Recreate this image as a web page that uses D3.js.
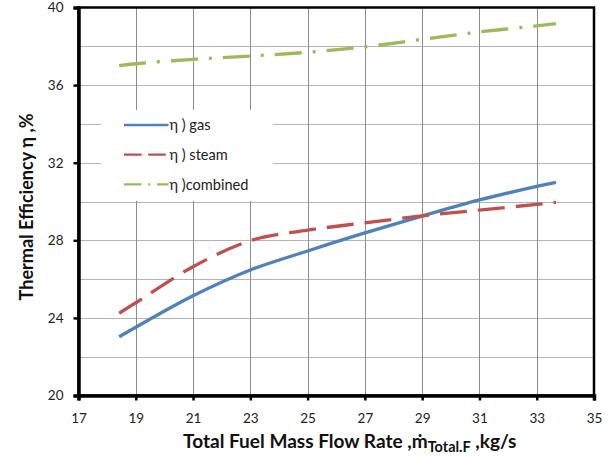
<!DOCTYPE html>
<html><head><meta charset="utf-8">
<script src="https://cdn.jsdelivr.net/npm/d3@7"></script>
<style>
body{margin:0;background:#fff}
text{font-family:Lato,'Open Sans',sans-serif}
</style>
</head><body><svg id="c" width="611" height="456"></svg>
<script>
const flowRate = [18.42, 19, 21, 23, 25, 27, 29, 31, 33, 33.67];
const etaGas = [23.03, 23.52, 25.14, 26.47, 27.45, 28.38, 29.25, 30.08, 30.78, 30.99];
const etaSteam = [24.24, 24.78, 26.64, 27.98, 28.52, 28.9, 29.26, 29.56, 29.85, 29.96];
const etaCombined = [37.0, 37.1, 37.33, 37.5, 37.69, 37.97, 38.36, 38.74, 39.05, 39.17];
const seriesNames = ["η ) gas", "η ) steam", "η )combined"];
const seriesColors = ["#4F81BD", "#C0504D", "#9BBB59"];
const xTickValues = [17, 19, 21, 23, 25, 27, 29, 31, 33, 35];
const yTickValues = [20, 24, 28, 32, 36, 40];
const yGridValues = [22, 24, 26, 28, 30, 32, 34, 36, 38];

const svg = d3.select("#c");
const x = d3.scaleLinear().domain([17, 35]).range([78.5, 594]);
const y = d3.scaleLinear().domain([20, 40]).range([395.5, 7.5]);

// fit a text element's font size so its length matches a target width
function fitSize(sel, target, base) {
  sel.style("font-size", base + "px");
  const w = sel.node().getComputedTextLength();
  const s = base * target / w;
  sel.style("font-size", s + "px");
  return s;
}

// gridlines
svg.append("g").selectAll("line").data(yGridValues).join("line")
  .attr("x1", x(17)).attr("x2", x(35))
  .attr("y1", d => Math.round(y(d)) + 0.5).attr("y2", d => Math.round(y(d)) + 0.5)
  .attr("stroke", "#b4b4b4").attr("stroke-width", 1);
svg.append("g").selectAll("line").data(xTickValues.slice(1, -1)).join("line")
  .attr("x1", d => Math.round(x(d)) + 0.5).attr("x2", d => Math.round(x(d)) + 0.5)
  .attr("y1", y(40)).attr("y2", y(20))
  .attr("stroke", "#8c8c8c").attr("stroke-width", 1);

// plot border
svg.append("rect").attr("x", x(17)).attr("y", y(40))
  .attr("width", x(35) - x(17)).attr("height", y(20) - y(40))
  .attr("fill", "none").attr("stroke", "#000").attr("stroke-width", 2.5);

// axes
const xAxis = svg.append("g").attr("transform", `translate(0,${y(20)})`)
  .call(d3.axisBottom(x).tickValues(xTickValues).tickSize(5).tickPadding(13).tickFormat(d3.format("d")));
const yAxis = svg.append("g").attr("transform", `translate(${x(17)},0)`)
  .call(d3.axisLeft(y).tickValues(yTickValues).tickSize(5).tickPadding(10).tickFormat(d3.format("d")));
[xAxis, yAxis].forEach(a => {
  a.select(".domain").attr("stroke", "#000").attr("stroke-width", 3.5);
  a.selectAll(".tick line").attr("stroke", "#000").attr("stroke-width", 2.5);
  a.selectAll(".tick text").attr("fill", "#222").style("font-size", "13.5px").style("font-family", "Lato,'Open Sans',sans-serif");
});

// series
const seriesData = [etaGas, etaSteam, etaCombined];
const dashes = [null, "27,11", "27,11,3,11"];
const line = d3.line().x(d => x(d[0])).y(d => y(d[1])).curve(d3.curveCatmullRom.alpha(0.5));
seriesData.forEach((vals, i) => {
  svg.append("path").datum(flowRate.map((f, j) => [f, vals[j]]))
    .attr("d", line).attr("fill", "none")
    .attr("stroke", seriesColors[i]).attr("stroke-width", 3.3)
    .attr("stroke-dasharray", dashes[i]);
});

// legend
const lg = svg.append("g");
lg.append("rect").attr("x", 101).attr("y", 110).attr("width", 172).attr("height", 91).attr("fill", "#fff");
const legDash = [null, "17.6,6.6", "17.6,6.6,2.2,6.6"];
const legTexts = [];
seriesNames.forEach((n, i) => {
  const ly = 125 + i * 29.7;
  lg.append("line").attr("x1", 124).attr("x2", 168.5).attr("y1", ly).attr("y2", ly)
    .attr("stroke", seriesColors[i]).attr("stroke-width", 2.3).attr("stroke-dasharray", legDash[i]);
  legTexts.push(lg.append("text").attr("x", 169.5).attr("y", ly).attr("dy", "0.35em")
    .attr("fill", "#222").text(n));
});
const legSize = fitSize(legTexts[2], 79, 13);
legTexts.forEach(t => t.style("font-size", legSize + "px"));

// axis titles
const xt = svg.append("text").attr("x", 183).attr("y", 448)
  .attr("fill", "#111").style("font-weight", "bold");
const xMain = xt.append("tspan").text("Total Fuel Mass Flow Rate ,ṁ");
const fs = fitSize(xMain, 245, 17);
const xSub = xt.append("tspan").attr("dy", 4).text("Total.F");
fitSize(xSub, 43, 11);
const xUnit = xt.append("tspan").attr("dy", -4).style("font-size", fs + "px").text(" ,kg/s");

const yt = svg.append("text").attr("transform", "translate(33,207) rotate(-90)")
  .attr("text-anchor", "middle").attr("fill", "#111")
  .style("font-weight", "bold")
  .text("Thermal Efficiency η ,%");
fitSize(yt, 187, 17);
</script></body></html>
